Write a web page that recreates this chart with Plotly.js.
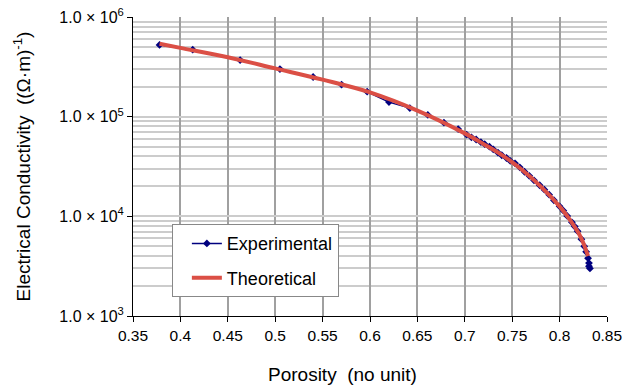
<!DOCTYPE html>
<html>
<head>
<meta charset="utf-8">
<script src="https://cdn.plot.ly/plotly-3.0.1.min.js"></script>
<style>html,body{margin:0;padding:0;background:#fff;}</style>
</head>
<body>
<div id="chart" style="width:625px;height:387px;"></div>
<script>
var expX = [0.378,0.413,0.463,0.505,0.540,0.570,0.597,0.620,0.642,0.661,0.678,0.693,0.702,0.707,0.712,0.717,0.721,0.726,0.730,0.735,0.739,0.744,0.748,0.753,0.758,0.763,0.768,0.773,0.779,0.784,0.789,0.794,0.800,0.804,0.808,0.813,0.816,0.819,0.823,0.826,0.828,0.830,0.831,0.831,0.832];
var expY = [5.25e5,4.7e5,3.7e5,3.0e5,2.5e5,2.1e5,1.78e5,1.40e5,1.22e5,1.04e5,8.7e4,7.5e4,6.6e4,6.2e4,5.9e4,5.55e4,5.3e4,5.0e4,4.7e4,4.35e4,4.1e4,3.85e4,3.6e4,3.4e4,3.1e4,2.8e4,2.55e4,2.3e4,2.05e4,1.85e4,1.65e4,1.45e4,1.26e4,1.14e4,1.01e4,8.7e3,7.9e3,7.1e3,5.9e3,5.0e3,4.4e3,3.8e3,3.4e3,3.15e3,3.0e3];
var thX = [0.378,0.40,0.45,0.50,0.55,0.60,0.65,0.70,0.72,0.74,0.76,0.78,0.80,0.81,0.82,0.825,0.83];
var thY = [5.4e5,4.9e5,3.95e5,3.05e5,2.35e5,1.75e5,1.15e5,6.8e4,5.3e4,4.07e4,2.95e4,2.0e4,1.26e4,9.5e3,6.8e3,5.4e3,4.0e3];
var yTickVals = [1e3,1e4,1e5,1e6];
var yTickText = ['1.0 × 10<sup>3</sup>','1.0 × 10<sup>4</sup>','1.0 × 10<sup>5</sup>','1.0 × 10<sup>6</sup>'];
var xTickVals = [0.35,0.4,0.45,0.5,0.55,0.6,0.65,0.7,0.75,0.8,0.85];
var xTickText = ['0.35','0.4','0.45','0.5','0.55','0.6','0.65','0.7','0.75','0.8','0.85'];
var xTitle = 'Porosity  (no unit)';
var yTitle = 'Electrical Conductivity  ((Ω·m)<sup>-1</sup>)';

var traces = [
  {x: expX, y: expY, name: 'Experimental', legendgroup: 'a', type: 'scatter', mode: 'lines+markers',
   line: {color: '#00007f', width: 1.5}, marker: {symbol: 'diamond', size: 6, color: '#00007f'}},
  {x: thX, y: thY, name: 'Theoretical', legendgroup: 'b', type: 'scatter', mode: 'lines',
   line: {color: '#db4f45', width: 4, shape: 'spline'}}
];
var layout = {
  width: 625, height: 387,
  margin: {l: 133, r: 18, t: 17, b: 71},
  paper_bgcolor: '#fff', plot_bgcolor: '#fff',
  font: {family: 'Liberation Sans, Arial, sans-serif', size: 15, color: '#000'},
  showlegend: true,
  legend: {x: 0.082, y: 0.307, xanchor: 'left', yanchor: 'top', bgcolor: '#fff',
           bordercolor: '#888', borderwidth: 1, font: {size: 18}, traceorder: 'grouped',
           tracegroupgap: 8, indentation: 14, entrywidth: 148, entrywidthmode: 'pixels'},
  xaxis: {range: [0.35, 0.85], tickmode: 'array', tickvals: xTickVals, ticktext: xTickText,
          showgrid: true, gridcolor: '#a0a0a0', gridwidth: 1.5, zeroline: false,
          showline: true, linecolor: '#000', linewidth: 1, ticks: 'outside', ticklen: 5,
          tickcolor: '#000', tickfont: {size: 15.5}},
  yaxis: {type: 'log', range: [3, 6], tickmode: 'array', tickvals: yTickVals, ticktext: yTickText,
          showgrid: true, gridcolor: '#cccccc', gridwidth: 2, zeroline: false,
          showline: true, linecolor: '#000', linewidth: 1, ticks: 'outside', ticklen: 5,
          tickcolor: '#000', tickfont: {size: 16},
          minor: {dtick: 'D1', showgrid: true, gridcolor: '#cccccc', gridwidth: 2, ticks: ''},
          title: {text: yTitle, font: {size: 19}, standoff: 23}},
  annotations: [{text: xTitle, xref: 'paper', yref: 'paper', x: 0.443, y: -0.197,
                 xanchor: 'center', yanchor: 'middle', showarrow: false, font: {size: 19}}]
};
Plotly.newPlot('chart', traces, layout, {displayModeBar: false});
</script>
</body>
</html>
